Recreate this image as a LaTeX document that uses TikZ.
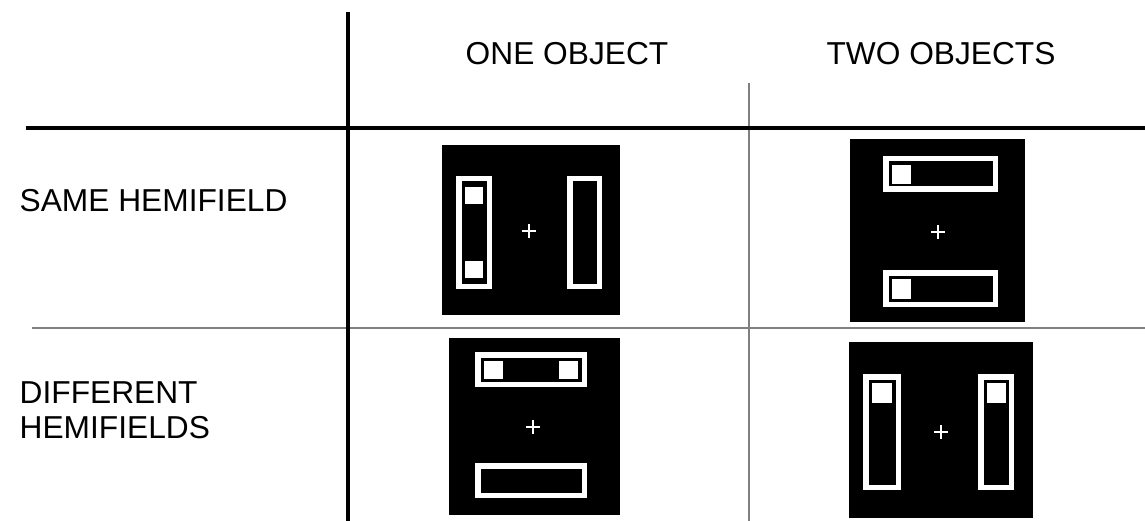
\documentclass[tikz,border=0pt]{standalone}
\usepackage{fontspec}
\setmainfont{Liberation Sans}
\newcommand{\stimframe}[4]{%
  \fill[white] (#1,#2) rectangle (#3,#4);
  \fill[black] ({#1+5.5},{#2+5.5}) rectangle ({#3-5.5},{#4-5.5});}
\newcommand{\fixcross}[2]{%
  \draw[white,line width=1.6pt] ({#1-7},#2) -- ({#1+7},#2) ({#1},{#2-7}) -- ({#1},{#2+7});}
\begin{document}
\begin{tikzpicture}[x=1pt,y=-1pt,
  lab/.style={inner sep=0pt,font=\fontsize{31.7}{38}\selectfont},
  thick rule/.style={line width=4.8pt,black},
  thin rule/.style={line width=1.2pt,black!50}]
\useasboundingbox (0,0) rectangle (1145,521);
\fill[white] (0,0) rectangle (1145,521);
% grid lines
\draw[thin rule] (32,328) -- (1145,328);
\draw[thin rule] (749,83) -- (749,521);
\draw[thick rule] (26,128) -- (1145,128);
\draw[thick rule] (348,12) -- (348,521);
% labels
\node[lab,anchor=base] (one) at (567,65) {ONE OBJECT};
\node[lab,anchor=base] (two) at (941,65) {TWO OBJECTS};
\node[lab,anchor=base west] (same) at (19.5,211.7) {SAME HEMIFIELD};
\node[lab,anchor=base west] (diff1) at (19.5,403.3) {DIFFERENT};
\node[lab,anchor=base west] (diff2) at (19.5,438.3) {HEMIFIELDS};
% panel 1: one object, same hemifield
\fill[black] (442,145) rectangle (620,315);
\stimframe{456}{176}{492}{289}
\fill[white] (465,187) rectangle (483,204);
\fill[white] (465,261) rectangle (483,278);
\stimframe{567}{176}{602}{289}
\fixcross{529}{231}
% panel 2: two objects, same hemifield
\fill[black] (850,139) rectangle (1025,322);
\stimframe{883}{156}{998}{192}
\fill[white] (892,165) rectangle (911,184);
\stimframe{883}{270}{998}{307}
\fill[white] (892,279) rectangle (911,299);
\fixcross{938}{232}
% panel 3: one object, different hemifields
\fill[black] (449,338) rectangle (620,515);
\stimframe{475}{352}{587}{387}
\fill[white] (484,361) rectangle (503,379);
\fill[white] (559,361) rectangle (578,379);
\stimframe{475}{463}{587}{498}
\fixcross{533}{427}
% panel 4: two objects, different hemifields
\fill[black] (849,342) rectangle (1033,518);
\stimframe{863}{374}{901}{490}
\fill[white] (872,383) rectangle (892,403);
\stimframe{978}{374}{1014}{490}
\fill[white] (987,383) rectangle (1006,403);
\fixcross{941}{432}
\end{tikzpicture}
\end{document}
